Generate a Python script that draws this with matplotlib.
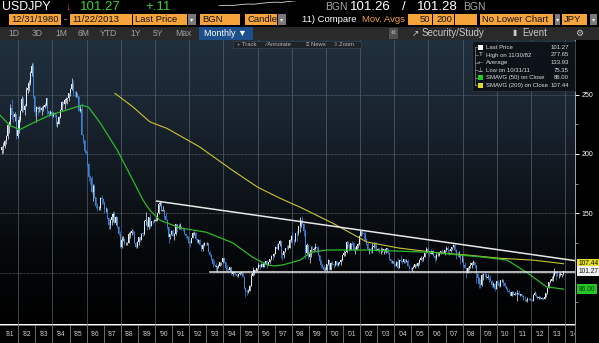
import matplotlib
matplotlib.use("Agg")
import matplotlib.pyplot as plt
import matplotlib.font_manager as fm
import numpy as np
from matplotlib.patches import Rectangle
from matplotlib.colors import LinearSegmentedColormap

# USDJPY monthly bars, Jan 1981 .. Nov 2013
prev_close = 203.0
close = [
    205.8, 206.5, 210.5, 215.2, 224.5, 226.5, 238.8, 232.5, 230.8, 233.6, 214.9, 219.9,  # 1981
    228.5, 236.0, 246.5, 237.0, 240.5, 254.0, 255.5, 259.5, 268.5, 274.5, 249.0, 235.3,  # 1982
    239.5, 237.7, 239.0, 237.0, 238.5, 239.9, 241.4, 246.7, 236.5, 233.7, 235.7, 232.2,  # 1983
    234.5, 233.0, 225.5, 225.5, 230.9, 237.3, 243.8, 242.1, 245.5, 246.5, 246.8, 251.6,  # 1984
    254.8, 258.9, 251.2, 251.0, 251.4, 248.7, 236.3, 237.5, 216.3, 211.8, 202.1, 200.6,  # 1985
    191.4, 180.6, 179.5, 168.2, 173.3, 163.9, 155.7, 154.3, 154.3, 163.2, 162.3, 159.1,  # 1986
    153.4, 153.6, 146.0, 139.8, 144.5, 147.0, 149.5, 141.9, 146.6, 138.4, 132.4, 121.3,  # 1987
    127.8, 128.4, 124.5, 124.6, 124.9, 132.9, 133.6, 135.3, 134.4, 125.1, 121.8, 125.8,  # 1988
    129.9, 127.7, 132.9, 132.8, 143.7, 143.7, 138.6, 146.4, 139.4, 143.5, 143.3, 143.8,  # 1989
    144.6, 149.9, 157.7, 158.6, 152.2, 152.8, 147.4, 144.5, 138.4, 129.6, 132.3, 135.4,  # 1990
    131.2, 132.8, 140.5, 137.4, 138.1, 138.1, 137.2, 136.9, 132.9, 130.5, 129.8, 125.2,  # 1991
    125.1, 129.3, 133.1, 133.6, 127.9, 125.8, 127.3, 123.5, 119.9, 123.3, 124.9, 124.8,  # 1992
    124.8, 117.5, 115.2, 111.1, 107.3, 106.5, 104.8, 104.8, 105.6, 108.6, 108.9, 111.9,  # 1993
    108.8, 104.1, 102.8, 102.2, 104.5, 98.5, 100.2, 100.0, 98.6, 97.0, 98.8, 99.7,  # 1994
    99.7, 96.5, 86.6, 84.2, 83.7, 84.6, 88.4, 97.5, 99.8, 101.8, 101.5, 103.5,  # 1995
    106.6, 104.9, 107.3, 104.6, 108.3, 109.6, 106.7, 108.6, 111.5, 114.0, 113.7, 115.9,  # 1996
    121.3, 120.2, 124.0, 126.9, 116.3, 114.6, 118.3, 120.9, 120.6, 120.6, 127.6, 130.6,  # 1997
    126.9, 126.4, 133.2, 133.1, 138.9, 138.9, 144.7, 141.3, 135.4, 116.1, 123.3, 113.2,  # 1998
    116.3, 119.2, 118.9, 119.5, 121.2, 121.1, 114.8, 109.6, 106.1, 104.3, 102.1, 102.2,  # 1999
    107.3, 110.2, 102.5, 108.1, 107.6, 106.0, 109.6, 106.7, 107.9, 108.9, 110.5, 114.4,  # 2000
    116.4, 117.4, 126.1, 123.6, 118.9, 124.8, 124.7, 118.8, 119.3, 122.4, 123.8, 131.1,  # 2001
    134.7, 133.7, 132.7, 128.5, 124.3, 119.5, 119.9, 118.5, 121.9, 122.5, 122.4, 118.7,  # 2002
    119.9, 117.8, 118.1, 119.1, 119.2, 119.8, 120.6, 116.8, 111.5, 109.6, 109.6, 107.2,  # 2003
    105.9, 109.1, 104.2, 110.4, 109.6, 108.8, 111.6, 109.3, 110.1, 105.8, 103.1, 102.6,  # 2004
    103.6, 104.6, 107.1, 105.3, 108.4, 110.8, 112.5, 111.0, 113.4, 116.4, 119.8, 117.8,  # 2005
    117.2, 115.9, 117.8, 113.9, 112.6, 114.4, 114.6, 117.3, 118.1, 116.9, 115.8, 119.0,  # 2006
    121.0, 118.6, 117.9, 119.6, 121.7, 123.2, 118.7, 115.8, 114.8, 115.4, 111.1, 111.7,  # 2007
    106.4, 103.7, 99.7, 104.0, 105.5, 106.2, 107.9, 108.8, 106.0, 98.5, 95.5, 90.6,  # 2008
    89.9, 97.6, 99.0, 98.5, 95.4, 96.3, 94.7, 93.0, 89.7, 90.1, 86.4, 93.0,  # 2009
    90.3, 88.9, 93.5, 94.0, 91.3, 88.4, 86.5, 84.2, 83.5, 80.4, 83.7, 81.1,  # 2010
    82.0, 81.8, 83.1, 81.2, 81.5, 80.5, 76.8, 76.6, 77.0, 78.0, 77.6, 76.9,  # 2011
    76.3, 81.2, 82.9, 80.0, 78.3, 79.8, 78.1, 78.4, 77.9, 79.8, 82.5, 86.7,  # 2012
    91.7, 92.6, 94.2, 97.5, 100.5, 99.1, 97.9, 98.2, 98.3, 98.4, 101.27,  # 2013
]
high = [
    206.5, 210.0, 212.0, 216.0, 225.0, 228.0, 242.0, 246.5, 236.0, 235.0, 234.0, 221.0,
    232.0, 237.0, 248.5, 248.0, 242.0, 256.0, 258.0, 262.0, 270.0, 277.0, 277.65, 249.0,
    240.0, 240.0, 240.5, 240.0, 240.0, 241.0, 243.0, 247.5, 247.0, 236.5, 237.0, 236.5,
    235.0, 235.0, 233.5, 228.0, 232.0, 238.0, 245.0, 244.0, 246.0, 248.0, 247.5, 251.7,
    255.2, 263.65, 262.0, 253.0, 253.0, 251.5, 249.0, 241.0, 243.0, 216.5, 211.8, 203.5,
    202.5, 192.0, 182.0, 181.0, 175.0, 175.0, 164.0, 158.5, 156.0, 164.0, 165.0, 163.0,
    159.5, 155.0, 154.0, 147.0, 145.0, 148.5, 151.0, 151.5, 147.5, 146.8, 139.0, 135.0,
    131.0, 130.5, 129.0, 126.0, 125.5, 134.0, 135.0, 137.0, 136.0, 135.0, 125.7, 126.5,
    130.0, 130.0, 133.5, 134.0, 144.5, 151.3, 144.0, 147.0, 149.5, 143.5, 144.6, 145.0,
    147.0, 150.0, 158.0, 160.35, 159.5, 156.0, 153.0, 151.0, 145.0, 138.5, 132.5, 136.0,
    137.0, 133.5, 141.0, 141.0, 140.5, 142.0, 139.5, 138.5, 137.0, 133.0, 131.0, 130.5,
    127.5, 129.5, 134.5, 134.7, 134.0, 128.2, 128.0, 128.5, 123.5, 124.5, 125.5, 125.0,
    125.8, 124.9, 118.0, 115.5, 112.0, 110.5, 108.0, 105.8, 107.0, 108.7, 109.2, 112.5,
    113.5, 108.8, 106.0, 104.0, 105.0, 105.0, 101.5, 101.0, 100.5, 99.0, 99.0, 100.5,
    101.5, 100.3, 96.5, 87.5, 86.5, 86.5, 89.7, 99.5, 104.5, 102.0, 102.8, 103.7,
    107.8, 107.5, 107.8, 108.0, 108.8, 110.0, 110.5, 108.7, 111.5, 114.5, 114.5, 116.2,
    122.3, 124.7, 124.5, 127.5, 127.0, 116.5, 118.5, 120.9, 123.0, 123.0, 128.0, 131.5,
    135.0, 128.0, 133.7, 135.3, 139.2, 146.8, 144.7, 147.6, 141.5, 136.5, 124.5, 123.5,
    117.0, 122.5, 122.5, 121.3, 124.8, 122.5, 122.5, 115.0, 111.6, 107.8, 106.5, 104.5,
    107.4, 111.8, 110.5, 108.5, 109.4, 107.0, 110.0, 109.6, 108.5, 109.0, 111.2, 114.6,
    119.0, 118.2, 126.5, 126.8, 124.0, 125.0, 126.3, 125.0, 121.5, 123.7, 124.5, 131.5,
    134.7, 135.2, 134.0, 133.9, 128.8, 125.4, 120.5, 121.6, 125.0, 125.6, 125.6, 125.4,
    121.0, 121.0, 121.6, 120.6, 119.5, 120.0, 120.6, 120.9, 117.3, 111.5, 110.8, 109.8,
    107.7, 109.4, 112.1, 110.5, 114.9, 110.2, 111.7, 111.5, 111.7, 111.2, 106.1, 104.9,
    104.7, 106.0, 107.6, 108.2, 108.6, 111.0, 113.7, 112.1, 113.8, 116.6, 121.4, 121.4,
    117.8, 119.5, 118.3, 118.6, 114.4, 116.1, 117.5, 117.4, 118.3, 119.9, 118.2, 119.1,
    122.2, 122.2, 118.5, 120.0, 121.8, 124.1, 123.7, 119.8, 117.1, 117.8, 115.5, 114.7,
    112.0, 108.5, 104.0, 104.6, 105.8, 108.6, 108.6, 110.6, 109.0, 106.2, 99.5, 96.2,
    94.6, 98.9, 99.8, 101.4, 99.6, 98.9, 97.5, 97.8, 93.3, 92.2, 91.3, 93.2,
    93.8, 91.9, 93.7, 94.8, 94.9, 92.2, 88.9, 87.6, 86.2, 83.5, 84.4, 84.5,
    83.7, 84.0, 85.5, 85.5, 82.2, 81.5, 81.4, 80.3, 77.9, 79.5, 78.3, 78.3,
    77.7, 81.7, 84.2, 82.5, 80.6, 80.6, 79.9, 79.6, 78.8, 80.3, 82.8, 86.7,
    91.8, 94.5, 96.7, 99.9, 103.7, 101.5, 101.5, 99.2, 100.6, 99.0, 101.6,
]
low = [
    199.5, 201.0, 205.0, 208.0, 212.5, 218.0, 224.0, 229.0, 227.0, 228.0, 212.5, 213.0,
    218.0, 227.0, 235.0, 235.0, 233.0, 240.0, 251.0, 253.0, 258.0, 266.0, 247.0, 232.0,
    226.5, 233.0, 235.0, 235.0, 233.0, 236.0, 239.0, 240.0, 234.0, 231.5, 232.5, 230.5,
    231.0, 231.0, 223.5, 223.0, 225.0, 230.0, 236.0, 241.0, 238.0, 243.0, 242.0, 244.5,
    249.0, 254.0, 249.0, 248.0, 248.0, 247.0, 236.0, 235.0, 216.0, 209.0, 201.5, 199.5,
    190.0, 177.0, 175.0, 167.0, 160.5, 163.0, 154.0, 151.5, 152.5, 153.0, 158.0, 158.0,
    150.5, 151.0, 145.0, 137.0, 137.0, 140.0, 143.0, 140.5, 140.0, 137.5, 131.5, 120.8,
    120.5, 127.0, 123.2, 123.5, 123.5, 124.5, 129.0, 132.0, 132.5, 124.5, 121.0, 120.8,
    123.0, 125.5, 127.5, 130.5, 131.5, 140.0, 136.0, 136.8, 137.5, 139.0, 141.0, 142.6,
    143.5, 143.5, 149.5, 156.5, 151.5, 151.5, 145.5, 144.0, 137.0, 124.5, 128.0, 131.5,
    131.0, 127.8, 131.5, 134.0, 136.5, 137.0, 136.0, 135.0, 132.5, 129.5, 128.6, 124.9,
    121.3, 124.8, 129.2, 132.0, 127.3, 124.8, 124.8, 123.0, 118.5, 118.5, 122.5, 123.5,
    123.5, 117.2, 114.0, 110.5, 105.0, 106.0, 101.3, 100.5, 104.0, 105.5, 106.0, 107.8,
    108.0, 101.0, 101.0, 101.0, 101.5, 98.0, 97.5, 98.5, 97.8, 96.5, 96.3, 98.3,
    98.5, 96.3, 86.0, 79.75, 81.3, 82.5, 84.5, 88.5, 97.0, 97.8, 99.8, 100.3,
    103.2, 103.2, 104.5, 104.0, 104.5, 107.5, 104.2, 106.5, 107.8, 110.7, 110.5, 113.1,
    115.8, 119.5, 119.3, 122.0, 112.5, 110.6, 112.3, 117.0, 119.5, 119.5, 120.5, 125.5,
    124.5, 122.9, 125.5, 126.5, 131.5, 134.5, 138.8, 141.0, 130.8, 111.6, 115.0, 111.6,
    108.3, 112.8, 116.8, 117.6, 118.9, 117.1, 114.2, 109.2, 103.7, 103.6, 101.5, 101.3,
    101.5, 106.7, 102.3, 101.8, 106.3, 103.9, 105.6, 105.3, 105.4, 107.2, 106.6, 109.8,
    113.8, 114.2, 116.4, 121.3, 118.5, 119.0, 123.0, 118.5, 115.8, 119.3, 120.8, 123.2,
    130.8, 131.8, 126.9, 127.6, 123.3, 118.9, 115.5, 116.3, 116.7, 120.6, 119.4, 118.4,
    117.8, 116.3, 115.9, 117.7, 115.8, 116.9, 116.5, 116.0, 110.7, 107.9, 107.9, 106.8,
    105.3, 105.3, 103.4, 103.6, 108.5, 106.8, 108.3, 108.4, 108.5, 105.6, 102.2, 101.8,
    101.7, 103.6, 103.9, 104.6, 104.3, 106.2, 110.5, 108.8, 109.7, 113.2, 116.5, 115.6,
    113.4, 115.3, 115.4, 113.6, 108.9, 110.9, 113.6, 113.9, 115.5, 116.4, 115.4, 115.1,
    118.5, 115.8, 115.2, 117.3, 119.2, 121.3, 118.1, 111.6, 113.2, 113.4, 107.2, 109.3,
    104.6, 103.6, 95.8, 99.5, 102.4, 103.8, 103.8, 106.7, 103.5, 90.9, 92.5, 87.1,
    87.1, 88.8, 93.8, 96.6, 94.5, 94.8, 91.7, 92.6, 88.2, 88.0, 84.8, 86.2,
    89.5, 88.1, 88.2, 92.3, 88.9, 88.1, 86.3, 83.6, 82.9, 80.2, 80.3, 80.9,
    81.0, 81.5, 76.3, 81.0, 80.0, 79.7, 76.6, 75.9, 75.9, 75.35, 76.6, 76.6,
    76.0, 76.1, 80.8, 79.8, 78.0, 77.7, 77.7, 77.5, 77.1, 77.8, 79.1, 82.0,
    86.6, 90.9, 92.5, 92.6, 97.3, 93.8, 97.1, 95.8, 96.9, 96.6, 97.6,
]

# moving averages, read at points along the lines
ma50_t = [1980.93, 1981.5, 1982.1, 1982.85, 1983.85, 1984.85, 1985.7, 1986.1, 1986.8,
          1987.8, 1988.7, 1989.3, 1989.7, 1990.3, 1991.5, 1993.0, 1994.55, 1995.7,
          1996.55, 1997.0, 1997.5, 1998.5, 1999.1, 2000.1, 2002.4, 2004.3, 2006.3,
          2007.85, 2009.2, 2010.6, 2011.8, 2012.9, 2013.9]
ma50_v = [232.7, 224.0, 220.5, 226.0, 232.7, 237.0, 241.0, 239.5, 226.0,
          203.0, 178.0, 161.0, 152.5, 144.0, 137.5, 134.0, 125.0, 113.0,
          106.5, 105.5, 106.5, 110.5, 117.0, 119.0, 119.0, 118.0, 117.0,
          114.7, 113.0, 110.5, 99.6, 88.0, 86.0]
ma200_t = [1987.66, 1988.7, 1989.7, 1990.7, 1992.6, 1994.55, 1996.0, 1997.3, 1998.5,
           2000.4, 2002.4, 2004.3, 2006.3, 2008.3, 2010.2, 2012.1, 2013.9]
ma200_v = [251.0, 239.7, 227.0, 221.5, 206.0, 186.0, 172.0, 162.7, 155.0,
           141.6, 125.7, 120.6, 117.0, 114.7, 112.0, 110.5, 107.44]

# hand-drawn trend lines
down_x, down_y = [1990.1, 2014.58], [160.2, 110.0]
flat_x, flat_y = [1993.2, 2014.58], [100.6, 100.6]

last_price, sma50_last, sma200_last = 101.27, 86.00, 107.44
legend_rows = [("Last Price", "101.27"), ("High on 11/30/82", "277.65"),
               ("Average", "133.93"), ("Low on 10/31/11", "75.35"),
               ("SMAVG (50) on Close", "86.00"), ("SMAVG (200) on Close", "107.44")]
spark = [0.0, 0.4, 0.3, 1.0, 1.6, 1.4, 2.2, 2.9, 3.3, 3.1, 4.0, 4.6]

W, H = 599, 343
installed = {f.name for f in fm.fontManager.ttflist}
base = 'Liberation Sans' if 'Liberation Sans' in installed else 'DejaVu Sans'
plt.rcParams['font.family'] = [base, 'DejaVu Sans']

fig = plt.figure(figsize=(W / 100, H / 100), dpi=100, facecolor='black')


def rect(x0, y0, x1, y1):
    return [x0 / W, 1 - y1 / H, (x1 - x0) / W, (y1 - y0) / H]


x_lo, x_hi = 1980.93, 2014.575
y_lo, y_hi = 56.2, 296.0

ax = fig.add_axes(rect(0, 40, 575, 324.5))
bg = LinearSegmentedColormap.from_list('bg', ['#000000', '#05080a', '#10171e', '#1a2531', '#21303e'])
ax.imshow(np.linspace(0, 1, 256)[:, None], extent=[x_lo, x_hi, y_lo, y_hi], origin='lower',
          aspect='auto', cmap=bg, zorder=0)
ax.set_xlim(x_lo, x_hi)
ax.set_ylim(y_lo, y_hi)

for yr in range(1982, 2015, 2):
    ax.axvline(yr, color='#56616c', lw=0.5, zorder=1)
for lv in (100, 150, 200, 250):
    ax.axhline(lv, color='#6b7580', lw=0.5, ls=(0, (1, 1)), zorder=1)

# candles
c = np.array(close)
o = np.r_[prev_close, c[:-1]]
t = 1981 + (np.arange(len(c)) + 0.5) / 12
col = np.where(c >= o, '#e4ecf6', '#3f83d6')
ax.vlines(t, low, high, colors=col, lw=0.5, zorder=3)
ax.bar(t, np.maximum(np.abs(c - o), 0.4), bottom=np.minimum(o, c), width=0.06,
       color=col, lw=0, zorder=3)

ax.plot(ma200_t, ma200_v, color='#c9c434', lw=0.8, zorder=4)
ax.plot(ma50_t, ma50_v, color='#2eb82e', lw=0.9, zorder=4)
ax.plot(down_x, down_y, color='#e8e8e8', lw=1.1, zorder=5)
ax.plot(flat_x, flat_y, color='#e8e8e8', lw=1.1, zorder=5)

for s in ('left', 'top', 'bottom'):
    ax.spines[s].set_visible(False)
ax.spines['right'].set_color('#a0a6ac')
ax.spines['right'].set_linewidth(0.7)
ax.yaxis.tick_right()
ax.set_yticks([150, 200, 250])
ax.set_yticks([75, 125, 175, 225], minor=True)
ax.tick_params(axis='y', which='major', direction='out', length=3, width=0.7,
               colors='white', labelsize=5, pad=1.5)
ax.tick_params(axis='y', which='minor', direction='out', length=2, width=0.5, colors='#c0c0c0')
ax.set_xticks([])

ytr = ax.get_yaxis_transform()
for val, txt, fc, tc in [(sma200_last, '107.44', '#e6e02a', '#111111'),
                         (last_price, '101.27', '#f2f2f2', '#111111'),
                         (sma50_last, '86.00', '#23c623', '#0b3d0b')]:
    ax.text(1.006, val, txt, transform=ytr, fontsize=4.8, color=tc, va='center', ha='left',
            bbox=dict(boxstyle='square,pad=0.25', fc=fc, ec='none'), clip_on=False, zorder=6)

# year strip
axb = fig.add_axes(rect(0, 324.5, 575, 343))
axb.set_facecolor('black')
axb.set_xlim(x_lo, x_hi)
axb.set_ylim(0, 1)
for yr in range(1982, 2015):
    axb.axvline(yr, color='#7a7a7a', lw=0.6)
for yr in range(1981, 2015):
    axb.text(yr + 0.5, 0.45, "'%02d" % (yr % 100), ha='center', va='center', fontsize=4.8,
             color='#d0d0d0', clip_on=True)
for s in ('left', 'bottom'):
    axb.spines[s].set_visible(False)
for s in ('top', 'right'):
    axb.spines[s].set_color('#8a8a8a')
    axb.spines[s].set_linewidth(0.6)
axb.set_xticks([])
axb.set_yticks([])

# sparkline in the header
axs = fig.add_axes(rect(215, 0.5, 300, 6))
axs.plot(spark, color='#d8d8d8', lw=0.6)
axs.axis('off')

# header / toolbar overlay in pixel coordinates
top = fig.add_axes([0, 0, 1, 1], zorder=10)
top.set_xlim(0, W)
top.set_ylim(H, 0)
top.axis('off')
AMBER = '#f5a33a'

top.text(2, 6.5, 'USDJPY', fontsize=8.8, color='white', va='center')
top.text(66, 6.5, '\u2193', fontsize=8, color='#e0365a', va='center')
top.text(80, 6.5, '101.27', fontsize=9.5, color='#3ccf3c', va='center')
top.text(145, 6.5, '+.11', fontsize=9.5, color='#3ccf3c', va='center')
top.text(325, 6.5, 'BGN', fontsize=7.5, color='#a8a8a8', va='center')
top.text(350, 6.5, '101.26', fontsize=9.5, color='white', va='center')
top.text(404, 6.5, '/', fontsize=9.5, color='white', va='center', ha='center')
top.text(458, 6.5, '101.28', fontsize=9.5, color='white', va='center', ha='right')
top.text(463, 6.5, 'BGN', fontsize=7.5, color='#a8a8a8', va='center')


def box(x0, x1, label='', ha='left', fc=AMBER):
    top.add_patch(Rectangle((x0, 13.5), x1 - x0, 11.5, fc=fc, ec='none'))
    if label:
        tx = x0 + 2 if ha == 'left' else x1 - 2
        top.text(tx, 19.4, label, ha=ha, va='center', fontsize=6.8, color='#151515')


def drop(x0, x1):
    top.add_patch(Rectangle((x0, 13.5), x1 - x0, 11.5, fc='#7a7a7a', ec='none'))
    top.text((x0 + x1) / 2, 19.4, '\u25be', ha='center', va='center', fontsize=4.5, color='white')


box(9, 61, '12/31/1980')
top.text(65, 19.4, '-', ha='center', va='center', fontsize=6.8, color='#cfcfcf')
box(70, 132, '11/22/2013')
box(133, 187, 'Last Price')
drop(188, 196)
box(200, 240, 'BGN')
box(245, 277, 'Candle')
drop(278, 286)
top.text(302, 19.4, '11) Compare', va='center', fontsize=6.8, color='white')
top.text(362, 19.4, 'Mov. Avgs', va='center', fontsize=6.8, color=AMBER)
box(408, 432, '50', ha='right')
box(433, 454, '200', ha='right')
box(455, 477)
box(480, 553, 'No Lower Chart')
drop(555, 560)
box(562, 587, 'JPY')
drop(590, 597)

top.add_patch(Rectangle((0, 26.5), W, 13.5, fc='#2a2a2a', ec='none'))
for x, s in [(8, '1D'), (32, '3D'), (55, '1M'), (78, '6M'), (100, 'YTD'),
             (130, '1Y'), (153, '5Y'), (175, 'Max')]:
    top.text(x, 33.3, s, va='center', fontsize=6.2, color='#a0a0a0')
top.add_patch(Rectangle((199, 27), 54, 12.5, fc='#1d4f8c', ec='none'))
top.text(204, 33.3, 'Monthly \u25bc', va='center', fontsize=6.4, color='white')
top.add_patch(Rectangle((389, 28), 9, 10.5, fc='#505050', ec='none'))
top.text(393.5, 33, '\u00ab', ha='center', va='center', fontsize=6.5, color='#d0d0d0')
top.text(412, 33.3, '\u2197', va='center', fontsize=6.2, color='#c8c8c8')
top.text(422, 33.3, 'Security/Study', va='center', fontsize=7, color='#c8c8c8')
top.text(512, 33.3, '\u25ae', va='center', fontsize=5.5, color='#c8c8c8')
top.text(522, 33.3, 'Event', va='center', fontsize=7, color='#c8c8c8')
top.text(579.5, 33.3, '\u2699', ha='center', va='center', fontsize=6.5, color='#c8c8c8')

# chart mini toolbar
top.add_patch(Rectangle((233, 40.5), 128, 7.5, fc='#1e2329', ec='#3b424a', lw=0.5))
for x, s in [(237, '+ Track'), (265, '\u2215 Annotate'), (306, '\u2261 News'), (334, '\u25cb Zoom')]:
    top.text(x, 44.3, s, va='center', fontsize=4.2, color='#b8b8b8')

# legend box
top.add_patch(Rectangle((471.5, 40.5), 103, 50, fc='#0c1116', ec='#363c44', lw=0.5, alpha=0.93))
row_y = [47.3, 55.0, 62.7, 70.2, 77.8, 85.3]
top.plot([475, 475], [row_y[0], row_y[-1]], color='#8a8a8a', lw=0.5)
for (lab, val), y in zip(legend_rows, row_y):
    top.plot([475, 477.5], [y, y], color='#8a8a8a', lw=0.5)
    top.text(486, y, lab, va='center', fontsize=4.3, color='#dcdcdc')
    top.text(569, y, val, va='center', ha='right', fontsize=4.3, color='#dcdcdc')
top.add_patch(Rectangle((478, row_y[0] - 2.5), 5, 5, fc='white', ec='none'))
top.text(480.5, row_y[1], 'T', ha='center', va='center', fontsize=4.5, color='#dcdcdc')
top.text(480.5, row_y[2], '-+-', ha='center', va='center', fontsize=4, color='#dcdcdc')
top.text(480.5, row_y[3], '\u22a5', ha='center', va='center', fontsize=4.5, color='#dcdcdc')
top.add_patch(Rectangle((478, row_y[4] - 2.5), 5, 5, fc='#22cc22', ec='none'))
top.add_patch(Rectangle((478, row_y[5] - 2.5), 5, 5, fc='#e0e020', ec='none'))

fig.savefig('out.png', dpi=100, facecolor='black')
